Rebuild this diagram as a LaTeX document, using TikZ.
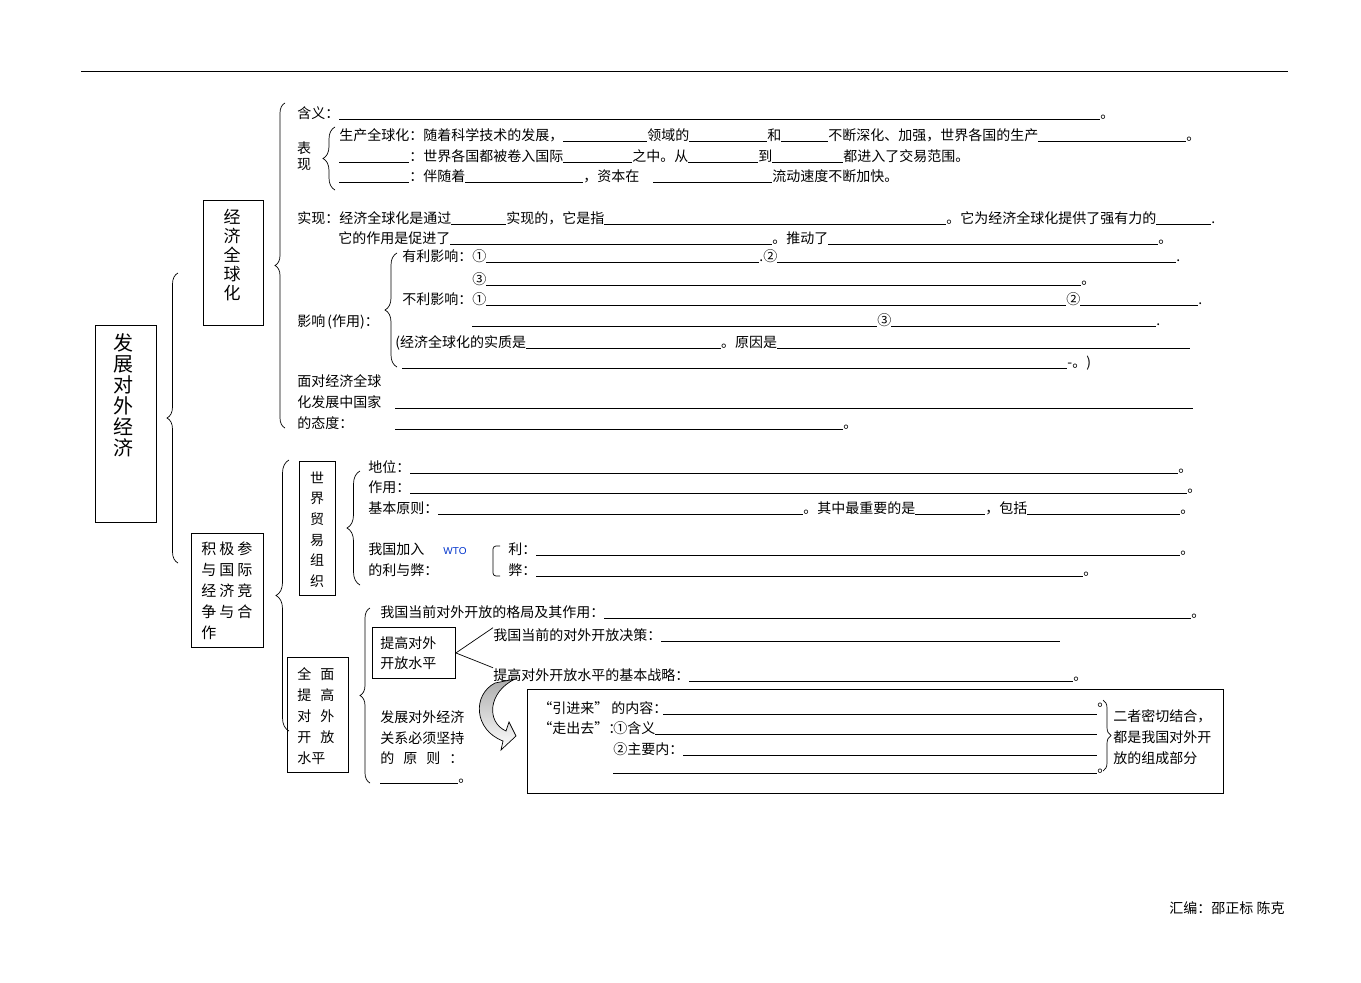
\documentclass[tikz,border=0pt]{standalone}
\usepackage{fontspec}
\setmainfont{Noto Sans CJK SC}
\newfontfamily\latinfont{Liberation Sans}
\usetikzlibrary{decorations.pathreplacing}
\definecolor{wtoblue}{RGB}{0,51,204}
\newcommand{\blk}[1]{\rule[-1.9pt]{#1pt}{0.9pt}}

\begin{document}
\begin{tikzpicture}[x=1pt,y=-1pt,line width=0.9pt,
    txt/.style={anchor=base west,inner sep=0pt,font=\fontsize{14}{17}\selectfont},
    framebox/.style={draw,anchor=north west,inner sep=0pt},
    vtxt/.style={align=center,inner sep=0pt},
    brc/.style={decorate,decoration={brace,amplitude=#1},line width=0.7pt}]

            %\draw [help lines] (0,0) grid (1361,983);
            \useasboundingbox (0,0) rectangle (1361,983);
            \draw (81,71) -- (1288,71);

            \path   (95,325)  node (fzdw)  [framebox,minimum width=61pt,minimum height=197pt] {}
                    (203,200) node (jjqqh) [framebox,minimum width=60pt,minimum height=125pt] {}
                    (191,533) node (jjcy)  [framebox,minimum width=72pt,minimum height=114pt] {}
                    (299,461) node (wto)   [framebox,minimum width=36pt,minimum height=134pt] {}
                    (287,657) node (qmtg)  [framebox,minimum width=61pt,minimum height=115pt] {}
                    (527,689) node (zcbox) [framebox,minimum width=696pt,minimum height=104pt] {};

            \path   (123,395) node (fzdw-t)  [vtxt,font=\fontsize{20}{21}\selectfont] {发\\展\\对\\外\\经\\济}
                    (232,255) node (jjqqh-t) [vtxt,font=\fontsize{17}{19}\selectfont] {经\\济\\全\\球\\化}
                    (317,529.5) node (wto-t) [vtxt,font=\fontsize{14}{20.7}\selectfont] {世\\界\\贸\\易\\组\\织}
                    (201,590.5) node (jjcy-t) [anchor=west,align=left,inner sep=0pt,font=\fontsize{15}{21}\selectfont]
                        {积\hspace{3pt}极\hspace{3pt}参\\与\hspace{3pt}国\hspace{3pt}际\\经\hspace{3pt}济\hspace{3pt}竞\\争\hspace{3pt}与\hspace{3pt}合\\作}
                    (297,716.5) node (qmtg-t) [anchor=west,align=left,inner sep=0pt,font=\fontsize{14}{21}\selectfont]
                        {全\hspace{9pt}面\\提\hspace{9pt}高\\对\hspace{9pt}外\\开\hspace{9pt}放\\水平};

            \draw[brc=11] (178,563) -- (178,273);
            \draw[brc=10] (285,428) -- (285,103);
            \draw[brc=13] (289,731) -- (289,460);

            \path   (297,118) node (hanyi) [txt] {含义：\blk{761}。}
                    (304,156) node (biaoxian) [vtxt,font=\fontsize{14}{16}\selectfont] {表\\现}
                    (339,140) node (bx1) [txt] {生产全球化：随着科学技术的发展，\blk{84}领域的\blk{78}和\blk{47}不断深化、加强，世界各国的生产\blk{148}。}
                    (339,161) node (bx2) [txt] {\blk{70}：世界各国都被卷入国际\blk{69}之中。从\blk{70}到\blk{71}都进入了交易范围。}
                    (339,181) node (bx3) [txt] {\blk{70}：伴随着\blk{118}，资本在\hspace{14pt}\blk{119}流动速度不断加快。}
                    (297,223) node (shixian) [txt] {实现：经济全球化是通过\blk{55}实现的，它是指\blk{342}。它为经济全球化提供了强有力的\blk{55}.}
                    (338,243) node (zuoyong) [txt] {它的作用是促进了\blk{322}。推动了\blk{330}。}
                    (297,326) node (yingxiang) [txt] {影响\kern2pt(作用)：}
                    (402,261) node (youli1) [txt] {有利影响：①\blk{273}.②\blk{399}.}
                    (472,284) node (youli3) [txt] {③\blk{595}。}
                    (402,304) node (buli1) [txt] {不利影响：①\blk{580}②\blk{118}.}
                    (472,325) node (buli3) [txt] {\blk{405}③\blk{265}.}
                    (395,347) node (shizhi) [txt] {(经济全球化的实质是\blk{195}。原因是\blk{413}}
                    (402,367) node (yuanyin) [txt] {\blk{665}-。)}
                    (297,386) node (taidu1) [txt] {面对经济全球}
                    (297,407) node (taidu2) [txt] {化发展中国家\hspace{14pt}\blk{798}}
                    (297,428) node (taidu3) [txt] {的态度：\hspace{42pt}\blk{448}。};

            \draw[brc=12] (335,190) -- (335,127);
            \draw[brc=12] (397,367) -- (397,253);

            \path   (368,472) node (diwei) [txt] {地位：\blk{768}。}
                    (368,492) node (zuoyong2) [txt] {作用：\blk{777}。}
                    (368,513) node (yuanze) [txt] {基本原则：\blk{365}。其中最重要的是\blk{70}，包括\blk{153}。}
                    (368,554) node (jiaru1) [txt] {我国加入\hspace{19pt}{\latinfont\fontsize{10}{12}\selectfont\color{wtoblue}WTO}}
                    (368,575) node (jiaru2) [txt] {的利与弊：}
                    (508,554) node (li) [txt] {利：\blk{644}。}
                    (508,575) node (bi) [txt] {弊：\blk{547}。};

            \draw[brc=13] (360,585) -- (360,471);
            \draw[rounded corners=3pt,line width=0.7pt] (500,546) -- (493,546) -- (493,576) -- (500,576);

            \path   (380,617) node (geju) [txt] {我国当前对外开放的格局及其作用：\blk{587}。}
                    (372,627) node (tgbox) [framebox,minimum width=83pt,minimum height=51pt,inner xsep=8pt,text width=67pt,align=left,font=\fontsize{14}{20}\selectfont] {提高对外\\开放水平}
                    (493,640) node (juece) [txt] {我国当前的对外开放决策：\blk{399}}
                    (493,680) node (zhanlue) [txt] {提高对外开放水平的基本战略：\blk{384}。}
                    (380,722) node (yz1) [txt] {发展对外经济}
                    (380,743) node (yz2) [txt] {关系必须坚持}
                    (380,763) node (yz3) [txt] {\makebox[83pt][s]{的\hfill 原\hfill 则\hfill ：}}
                    (380,782) node (yz4) [txt] {\blk{78}。}
                    (538,713) node (yjl) [txt] {“引进来”\hspace{3pt}的内容：}
                    (663,713) node (yjl-b) [txt] {\blk{434}\raisebox{7pt}{。}}
                    (538,733) node (zcq) [txt] {“走出去”：}
                    (613,733) node (hanyi2) [txt] {①含义\blk{442}}
                    (613,754) node (neirong) [txt] {②主要内：\blk{414}}
                    (613,772) node (neirong2) [txt] {\blk{484}。}
                    (1113,721) node (jh1) [txt] {二者密切结合，}
                    (1113,742) node (jh2) [txt] {都是我国对外开}
                    (1113,763) node (jh3) [txt] {放的组成部分};

            \draw[line width=0.7pt] (tgbox.east) -- (juece.north west);
            \draw[line width=0.7pt] (tgbox.east) -- (zhanlue.north west);
            \draw[brc=10] (370,783) -- (370,608);
            \draw[brc=8] (1103,700) -- (1103,771);
            \shadedraw[top color=gray!65,bottom color=white,line width=0.7pt]
                (495,683) .. controls (472,695) and (474,730) .. (503,741) -- (501,750) -- (516,736)
                -- (509,722) -- (506,731) .. controls (486,722) and (488,692) .. (515,679) -- cycle;

            \path   (1169,913) node (huibian) [txt] {汇编：邵正标 陈克};
        \end{tikzpicture}
\end{document}
